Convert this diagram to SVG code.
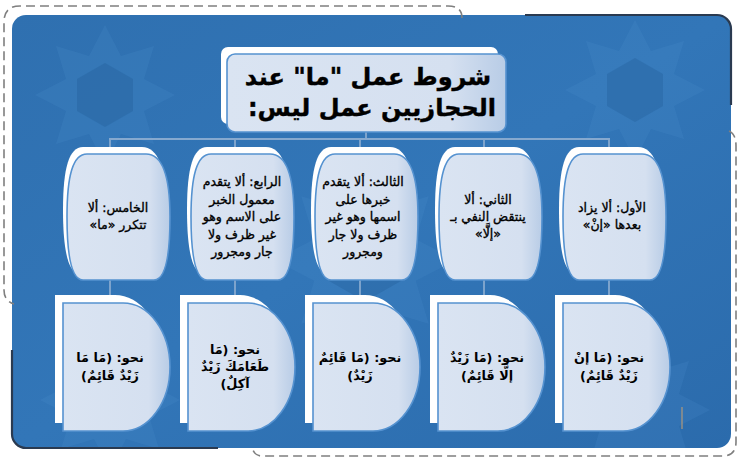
<svg xmlns="http://www.w3.org/2000/svg" xmlns:xlink="http://www.w3.org/1999/xlink" width="742" height="462" viewBox="0 0 742 462">
<style>
.dash{fill:none;stroke:#7f7f7f;stroke-width:1.6;stroke-dasharray:9 5}
.dark{fill:none;stroke:#2a3a50;stroke-width:2.2}
.conn{fill:none;stroke:#86a9cf;stroke-width:1.8}
.back{fill:#ffffff}
.front{fill:url(#gFront);stroke:#5592d0;stroke-width:1.6}
.ttl{font-family:"DejaVu Sans",sans-serif;font-weight:bold;font-size:24px;fill:#000;stroke:#000;stroke-width:0.4;text-anchor:middle;direction:rtl}
.up{font-family:"DejaVu Sans",sans-serif;font-size:12.5px;fill:#000;stroke:#000;stroke-width:0.35;text-anchor:middle;direction:rtl}
.lo{font-family:"DejaVu Sans",sans-serif;font-weight:bold;font-size:12.8px;fill:#000;text-anchor:middle;direction:rtl}
.lite{fill:#5a9ad6;opacity:0.15}
.deep{fill:#1d5590;opacity:0.28}
</style>
<defs>
<linearGradient id="gFront" x1="0" y1="0" x2="1" y2="0">
<stop offset="0" stop-color="#dae4f2"/>
<stop offset="0.8" stop-color="#d5e0f0"/>
<stop offset="1" stop-color="#b8cce6"/>
</linearGradient>
<linearGradient id="gPanel" x1="0" y1="0" x2="1" y2="1">
<stop offset="0" stop-color="#2f70b0"/>
<stop offset="0.5" stop-color="#3276b8"/>
<stop offset="1" stop-color="#2b6bac"/>
</linearGradient>
<clipPath id="cp"><rect x="12" y="15" width="719" height="433" rx="14"/></clipPath>
<polygon id="star" points="70,0 39,16 49,49 16,39 0,70 -16,39 -49,49 -39,16 -70,0 -39,-16 -49,-49 -16,-39 0,-70 16,-39 49,-49 39,-16"/>
<polygon id="hex" points="0,-32 28,-16 28,16 0,32 -28,16 -28,-16"/>
<path id="upBack" d="M16,-7 H75 C91,-7 99,14 99,56 C99,91 95,119 83,119 H12 C0,119 -4,91 -4,56 C-4,14 2,-7 16,-7 Z"/>
<path id="upFront" d="M20,0 H79 C95,0 103,21 103,63 C103,98 99,126 87,126 H16 C4,126 0,98 0,63 C0,21 6,0 20,0 Z"/>
<path id="loBack" d="M-8,-8 H52 A47,64 0 0 1 52,120 H-8 Z"/>
<path id="loFront" d="M0,0 H60 A47,64 0 0 1 60,128 H0 Z"/>
</defs>

<g id="background">
<rect x="12" y="15" width="719" height="433" rx="14" fill="url(#gPanel)"/>
<g clip-path="url(#cp)">
<use xlink:href="#star" class="lite" transform="translate(105,95)"/>
<use xlink:href="#hex" class="deep" transform="translate(105,95)"/>
<use xlink:href="#star" class="lite" transform="translate(635,90)"/>
<use xlink:href="#hex" class="deep" transform="translate(635,90)"/>
<use xlink:href="#star" class="lite" transform="translate(365,260) scale(1.3)"/>
<use xlink:href="#hex" class="deep" transform="translate(365,260) scale(1.3)"/>
<use xlink:href="#star" class="lite" transform="translate(110,400)"/>
<use xlink:href="#star" class="lite" transform="translate(640,410)"/>
<use xlink:href="#hex" class="deep" transform="translate(240,210)"/>
<use xlink:href="#hex" class="deep" transform="translate(490,210)"/>
</g>
<path class="dark" d="M525,15 H717 A14,14 0 0 1 731,29 V105"/>
<path class="dark" d="M12,350 V434 A14,14 0 0 0 26,448 H218"/>
<path class="dash" d="M462,18 Q462,6 448,6 H20 Q4,6 4,22 V290 Q4,301 14,304"/>
<path class="dash" d="M729,131 Q736,134 736,146 V442 Q736,456 722,456 H262 Q254,456 252,447"/>
<line x1="682" y1="407" x2="682" y2="429" stroke="#c8a070" stroke-width="1"/>
</g>

<g id="connectors">
<line class="conn" x1="366" y1="132" x2="366" y2="139"/>
<line class="conn" x1="109" y1="139" x2="610" y2="139"/>
<line class="conn" x1="110" y1="139" x2="110" y2="148"/>
<line class="conn" x1="235" y1="139" x2="235" y2="148"/>
<line class="conn" x1="360" y1="139" x2="360" y2="148"/>
<line class="conn" x1="484" y1="139" x2="484" y2="148"/>
<line class="conn" x1="609" y1="139" x2="609" y2="148"/>
<line class="conn" x1="110" y1="280" x2="110" y2="295"/>
<line class="conn" x1="235" y1="280" x2="235" y2="295"/>
<line class="conn" x1="360" y1="280" x2="360" y2="295"/>
<line class="conn" x1="484" y1="280" x2="484" y2="295"/>
<line class="conn" x1="609" y1="280" x2="609" y2="295"/>
</g>

<g id="title">
<rect class="back" x="221" y="47" width="277" height="77" rx="7"/>
<rect class="front" x="227" y="54" width="279" height="78" rx="8"/>
<text class="ttl" x="368" y="85">شروط عمل "ما" عند</text>
<text class="ttl" x="372" y="116">الحجازيين عمل ليس:</text>
</g>

<g id="n5">
<use xlink:href="#upBack" class="back" transform="translate(67,154)"/>
<use xlink:href="#upFront" class="front" transform="translate(67,154)"/>
<text class="up" x="118" y="212">الخامس: ألا</text>
<text class="up" x="118" y="229">تتكرر «ما»</text>
</g>
<g id="n4">
<use xlink:href="#upBack" class="back" transform="translate(191,154)"/>
<use xlink:href="#upFront" class="front" transform="translate(191,154)"/>
<text class="up" x="242" y="186">الرابع: ألا يتقدم</text>
<text class="up" x="242" y="203.5">معمول الخبر</text>
<text class="up" x="242" y="221">على الاسم وهو</text>
<text class="up" x="242" y="238.5">غير ظرف ولا</text>
<text class="up" x="242" y="256">جار ومجرور</text>
</g>
<g id="n3">
<use xlink:href="#upBack" class="back" transform="translate(315,154)"/>
<use xlink:href="#upFront" class="front" transform="translate(315,154)"/>
<text class="up" x="363" y="186">الثالث: ألا يتقدم</text>
<text class="up" x="363" y="203.5">خبرها على</text>
<text class="up" x="363" y="221">اسمها وهو غير</text>
<text class="up" x="363" y="238.5">ظرف ولا جار</text>
<text class="up" x="363" y="256">ومجرور</text>
</g>
<g id="n2">
<use xlink:href="#upBack" class="back" transform="translate(439,154)"/>
<use xlink:href="#upFront" class="front" transform="translate(439,154)"/>
<text class="up" x="488" y="204">الثاني: ألا</text>
<text class="up" x="488" y="221">ينتقض النفي بـ</text>
<text class="up" x="488" y="238">«إلَّا»</text>
</g>
<g id="n1">
<use xlink:href="#upBack" class="back" transform="translate(563,154)"/>
<use xlink:href="#upFront" class="front" transform="translate(563,154)"/>
<text class="up" x="612" y="212">الأول: ألا يزاد</text>
<text class="up" x="612" y="229">بعدها «إنْ»</text>
</g>

<g id="e5">
<use xlink:href="#loBack" class="back" transform="translate(63,303)"/>
<use xlink:href="#loFront" class="front" transform="translate(63,303)"/>
<text class="lo" x="110" y="362">نحو: (مَا مَا</text>
<text class="lo" x="110" y="380">زَيْدٌ قَائِمٌ)</text>
</g>
<g id="e4">
<use xlink:href="#loBack" class="back" transform="translate(188,303)"/>
<use xlink:href="#loFront" class="front" transform="translate(188,303)"/>
<text class="lo" x="235" y="354">نحو: (مَا</text>
<text class="lo" x="235" y="371">طَعَامَكَ زَيْدٌ</text>
<text class="lo" x="235" y="388">آكِلٌ)</text>
</g>
<g id="e3">
<use xlink:href="#loBack" class="back" transform="translate(313,303)"/>
<use xlink:href="#loFront" class="front" transform="translate(313,303)"/>
<text class="lo" x="360" y="362">نحو: (مَا قَائِمٌ</text>
<text class="lo" x="360" y="380">زَيْدٌ)</text>
</g>
<g id="e2">
<use xlink:href="#loBack" class="back" transform="translate(438,303)"/>
<use xlink:href="#loFront" class="front" transform="translate(438,303)"/>
<text class="lo" x="487" y="362">نحو: (مَا زَيْدٌ</text>
<text class="lo" x="487" y="380">إلَّا قَائِمٌ)</text>
</g>
<g id="e1">
<use xlink:href="#loBack" class="back" transform="translate(563,303)"/>
<use xlink:href="#loFront" class="front" transform="translate(563,303)"/>
<text class="lo" x="609" y="362">نحو: (مَا إنْ</text>
<text class="lo" x="609" y="380">زَيْدٌ قَائِمٌ)</text>
</g>
</svg>
